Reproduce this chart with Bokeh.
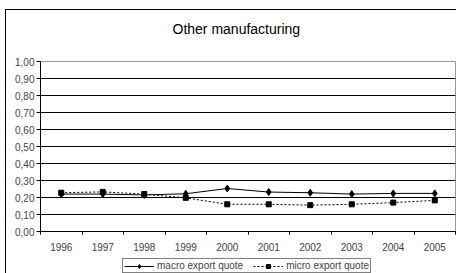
from bokeh.plotting import figure
from bokeh.layouts import column
from bokeh.models import Range1d, FixedTicker, Legend, LegendItem, Label
from bokeh.embed import file_html
from bokeh.resources import INLINE

title_text = "Other manufacturing"
years = ["1996", "1997", "1998", "1999", "2000", "2001", "2002", "2003", "2004", "2005"]
macro = [0.22, 0.22, 0.215, 0.222, 0.253, 0.232, 0.228, 0.22, 0.224, 0.224]
micro = [0.228, 0.233, 0.22, 0.198, 0.16, 0.16, 0.155, 0.16, 0.17, 0.183]
y_ticks = [0.0, 0.1, 0.2, 0.3, 0.4, 0.5, 0.6, 0.7, 0.8, 0.9, 1.0]
y_labels = ["0,00", "0,10", "0,20", "0,30", "0,40", "0,50", "0,60", "0,70", "0,80", "0,90", "1,00"]
series_names = ["macro export quote", "micro export quote"]

xs = [i + 0.5 for i in range(len(years))]
FONT = "Liberation Sans"

# title strip (frame aligned with the chart frame by the column layout)
t = figure(width=450, height=43, output_backend="svg", toolbar_location=None,
           x_axis_location=None, y_axis_location=None,
           x_range=Range1d(40, 455), y_range=Range1d(0, 43),
           min_border_left=0, min_border_right=0, min_border_top=0, min_border_bottom=0)
t.outline_line_color = None
t.grid.visible = False
t.add_layout(Label(x=172, y=25, text=title_text, text_align="left", text_baseline="middle",
                   text_font=FONT, text_font_size="14px", text_color="black"))

p = figure(width=450, height=204, output_backend="svg", toolbar_location=None,
           x_range=Range1d(0, len(years)), y_range=Range1d(0, 1),
           min_border_left=34, min_border_right=1, min_border_top=8, min_border_bottom=26)

p.outline_line_color = "#999999"
p.xgrid.visible = False
p.ygrid.ticker = FixedTicker(ticks=y_ticks)
p.ygrid.grid_line_color = "black"
p.ygrid.grid_line_width = 1

p.yaxis.ticker = FixedTicker(ticks=y_ticks)
p.yaxis.major_label_overrides = {t_: l for t_, l in zip(y_ticks, y_labels)}
p.yaxis.major_tick_out = 4
p.yaxis.major_tick_in = 0
p.yaxis.minor_tick_out = 0
p.yaxis.minor_tick_in = 0
p.yaxis.major_label_text_font = FONT
p.yaxis.major_label_text_font_size = "10px"
p.yaxis.major_label_standoff = 2
p.yaxis.axis_line_color = "black"

p.xaxis.ticker = FixedTicker(ticks=xs, minor_ticks=list(range(len(years) + 1)))
p.xaxis.major_label_overrides = {x: y for x, y in zip(xs, years)}
p.xaxis.major_tick_out = 0
p.xaxis.major_tick_in = 0
p.xaxis.minor_tick_out = 3
p.xaxis.minor_tick_in = 0
p.xaxis.major_label_text_font = FONT
p.xaxis.major_label_text_font_size = "10px"
p.xaxis.major_label_standoff = 8
p.xaxis.axis_line_color = "black"

p.line(xs, macro, line_color="black", line_width=1)
p.scatter(xs, macro, marker="diamond", size=7, color="black")
p.line(xs, micro, line_color="black", line_width=1, line_dash="2 2")
p.scatter(xs, micro, marker="square", size=5, color="black")

# legend strip: same series, drawn out of its visible range, only the legend shows
q = figure(width=450, height=16, output_backend="svg", toolbar_location=None,
           x_axis_location=None, y_axis_location=None,
           x_range=Range1d(0, len(years)), y_range=Range1d(5, 6),
           min_border_left=0, min_border_right=0, min_border_top=0, min_border_bottom=0)
q.outline_line_color = None
q.grid.visible = False
k1 = q.line(xs, macro, line_color="black", line_width=1)
k2 = q.scatter(xs, macro, marker="diamond", size=7, color="black")
k3 = q.line(xs, micro, line_color="black", line_width=1, line_dash="2 2")
k4 = q.scatter(xs, micro, marker="square", size=5, color="black")

legend = Legend(items=[LegendItem(label=series_names[0], renderers=[k1, k2]),
                       LegendItem(label=series_names[1], renderers=[k3, k4])],
                orientation="horizontal", location=(82, 0),
                label_text_font=FONT, label_text_font_size="10px",
                glyph_width=30, glyph_height=10, label_standoff=3, spacing=10,
                padding=1, margin=0, border_line_color="black",
                label_height=10)
q.add_layout(legend, "center")

layout = column(t, p, q, spacing=0,
                styles={"margin-left": "5px", "margin-top": "9px",
                        "border-left": "1px solid black", "border-top": "1px solid black"})

open("out.html", "w").write(file_html(layout, INLINE))
